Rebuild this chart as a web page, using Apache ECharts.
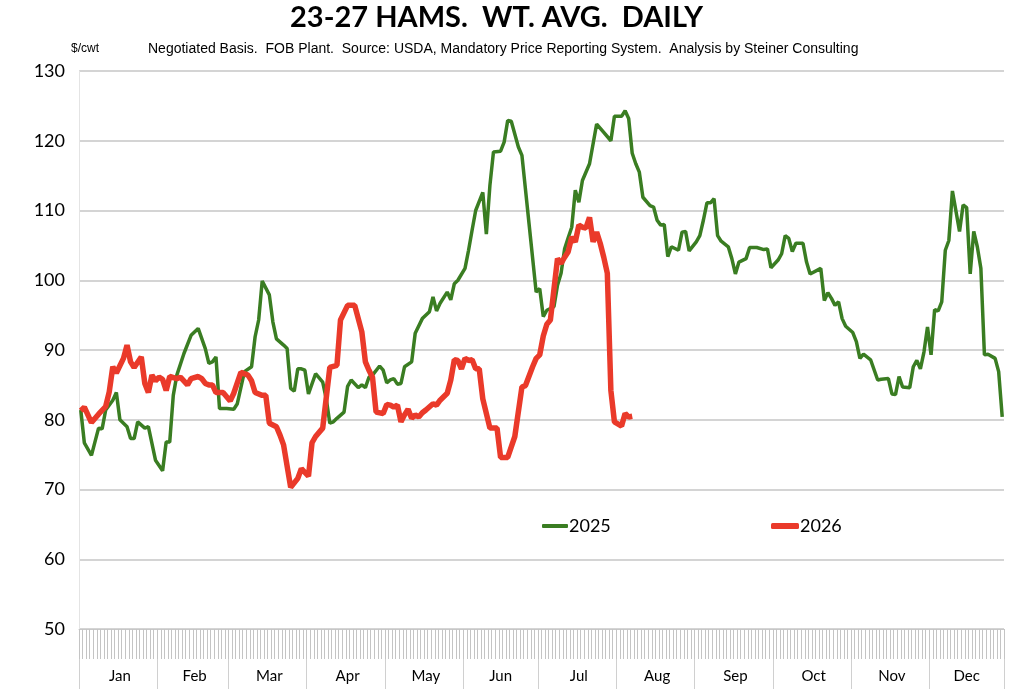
<!DOCTYPE html>
<html>
<head>
<meta charset="utf-8">
<script src="https://cdn.jsdelivr.net/npm/echarts@6/dist/echarts.min.js"></script>
<style>
  html, body { margin: 0; padding: 0; background: #fff; }
  #main { width: 1024px; height: 699px; }
</style>
</head>
<body>
<div id="main"></div>
<script>
// trading days per month on the category axis
var months = ['Jan','Feb','Mar','Apr','May','Jun','Jul','Aug','Sep','Oct','Nov','Dec'];
var monthDays = [22,20,22,22,22,21,22,22,22,22,22,21];

// 2025 (green) - day index within the year, value $/cwt
var days2025 = [0,1,3,5,6,7,9,10,11,13,14,15,16,18,19,21,23,24,25,26,27,29,31,33,35,36,37,38,39,41,
  43,44,46,48,49,50,51,53,54,55,57,58,59,60,61,62,63,64,66,68,69,70,71,72,74,75,76,78,79,80,
  81,82,84,85,86,87,88,89,90,91,93,94,96,98,99,100,101,103,104,105,106,108,109,110,111,113,114,115,116,118,
  119,120,121,123,124,126,128,129,130,131,133,134,135,136,137,138,139,140,141,143,145,147,149,150,152,153,154,155,156,157,
  158,160,161,162,163,164,165,166,168,169,170,171,173,174,175,176,177,178,179,180,182,183,184,185,187,188,190,192,193,194,
  196,197,198,199,200,201,203,204,205,208,209,210,211,212,213,214,215,217,218,219,220,222,224,225,227,228,229,230,231,233,
  234,235,236,237,238,239,240,241,242,243,244,245,247,248,249,250,251,252,253,254,255,257,258,259];
var values2025 = [81.4,76.7,74.9,78.8,78.7,81.4,82.8,83.9,80.0,79.0,77.3,77.3,79.7,78.8,79.0,74.2,72.7,76.8,76.8,83.5,86.4,89.5,92.1,93.1,90.2,88.1,88.3,89.0,81.6,81.6,
  81.5,82.3,86.9,87.6,91.9,94.3,99.9,97.9,94.0,91.6,90.7,90.2,84.5,84.1,87.3,87.3,87.1,83.7,86.6,85.4,83.0,79.5,79.7,80.2,81.1,84.8,85.7,84.6,85.0,84.6,
  86.1,86.4,87.7,87.1,85.3,85.7,85.9,85.1,85.2,87.6,88.3,92.4,94.5,95.5,97.6,95.6,96.7,98.3,97.2,99.5,100.0,101.7,104.3,107.2,110.0,112.6,106.6,113.6,118.4,118.5,
  119.8,122.9,122.8,119.1,117.9,108.1,98.3,98.8,94.8,95.7,96.2,99.3,101.0,104.5,106.1,107.6,112.9,111.2,114.3,116.7,122.4,121.2,120.0,123.5,123.5,124.3,123.2,118.2,116.7,115.5,
  111.9,110.7,110.5,108.6,107.9,108.0,103.4,104.8,104.3,106.9,107.0,104.2,105.5,106.4,108.6,111.1,111.1,111.7,106.4,105.6,104.8,103.1,100.9,102.6,103.1,104.7,104.7,104.4,104.5,101.8,
  102.9,103.8,106.4,106.0,104.1,105.3,105.3,102.6,100.9,101.7,97.1,98.2,97.4,96.4,96.9,94.5,93.4,92.5,91.2,88.8,89.4,88.6,85.7,85.8,85.9,83.7,83.6,86.2,84.7,84.6,
  87.6,88.5,87.3,89.7,93.3,89.3,95.8,95.6,96.9,104.3,105.7,112.8,107.0,110.8,110.4,100.9,107.0,104.8,101.7,89.3,89.4,88.8,86.9,80.4];

// 2026 (red)
var days2026 = [0,1,3,5,7,8,9,10,12,13,14,15,17,18,19,20,21,22,23,24,25,27,28,30,31,33,34,35,36,37,
  38,40,41,42,43,45,47,48,49,51,52,53,55,56,57,59,61,62,64,65,66,68,70,72,73,75,77,79,80,81,
  82,83,85,86,87,88,89,90,91,92,93,94,95,96,97,99,100,101,103,104,105,106,107,108,109,110,111,112,113,115,
  117,118,120,122,124,125,127,128,129,130,131,132,134,135,136,137,138,139,140,141,142,143,144,145,146,147,148,149,150,152,
  153,154,155];
var values2026 = [81.3,81.8,79.6,80.8,81.9,84.0,87.6,86.7,88.8,90.7,88.3,87.5,89.0,85.2,83.9,86.4,85.6,86.1,85.8,84.2,86.2,85.9,86.1,85.0,85.9,86.2,85.9,85.2,85.0,85.0,
  83.9,83.9,83.3,82.7,83.8,86.8,86.4,85.6,83.9,83.5,83.5,79.5,79.0,77.8,76.4,70.3,71.6,73.0,71.9,76.7,77.6,78.8,87.5,87.8,94.3,96.4,96.4,92.6,88.3,87.1,
  86.1,81.1,80.9,82.2,82.1,81.8,82.1,79.7,80.7,81.5,80.2,80.7,80.4,81.0,81.4,82.3,82.1,82.8,83.8,85.7,88.6,88.5,87.3,88.8,88.5,88.6,87.3,87.3,83.0,78.8,
  78.8,74.6,74.6,77.6,84.7,84.9,87.6,88.8,89.3,92.0,93.7,94.3,103.1,102.4,103.3,104.1,106.2,105.5,107.9,107.6,107.5,109.0,105.5,106.9,105.3,103.3,101.0,84.2,79.7,79.1,
  80.9,80.4,80.5];

var yTicks = [50, 60, 70, 80, 90, 100, 110, 120, 130];

// build day categories and month boundaries
var categories = [];
var monthStart = {};
var monthMid = {};
monthDays.forEach(function (n, m) {
  monthStart[categories.length] = true;
  monthMid[categories.length + Math.floor(n / 2)] = months[m];
  for (var d = 1; d <= n; d++) categories.push(months[m] + ' ' + d);
});

function pairs(days, vals) {
  return days.map(function (d, i) { return [d, vals[i]]; });
}

var dom = document.getElementById('main');
var myChart = echarts.init(dom);
var font = 'Lato, "Open Sans", sans-serif';
var narrow = '"Liberation Sans Narrow", "Liberation Sans", sans-serif';
var green = '#3a7d22';
var red = '#ea3a2a';

var option = {
  animation: false,
  title: [
    {
      text: '23-27 HAMS.  WT. AVG.  DAILY',
      left: 285, top: -2,
      textStyle: { fontFamily: font, fontWeight: 'bold', fontSize: 29, color: '#000' }
    },
    {
      text: '$/cwt',
      left: 66, top: 38,
      textStyle: { fontFamily: narrow, fontWeight: 'normal', fontSize: 12, color: '#000' }
    },
    {
      text: 'Negotiated Basis.  FOB Plant.  Source: USDA, Mandatory Price Reporting System.  Analysis by Steiner Consulting',
      left: 143, top: 37,
      textStyle: { fontFamily: narrow, fontWeight: 'normal', fontSize: 14, color: '#000' }
    }
  ],
  legend: [
    {
      data: ['2025'],
      left: 537, top: 512,
      icon: 'roundRect',
      itemWidth: 26, itemHeight: 4,
      textStyle: { fontFamily: font, fontSize: 18, color: '#000', padding: [0, 0, 0, -4] }
    },
    {
      data: ['2026'],
      left: 766, top: 512,
      icon: 'roundRect',
      itemWidth: 28, itemHeight: 6,
      textStyle: { fontFamily: font, fontSize: 18, color: '#000', padding: [0, 0, 0, -4] }
    }
  ],
  grid: { left: 79, right: 20, top: 71, bottom: 70, containLabel: false },
  xAxis: [
    {
      type: 'category',
      data: categories,
      boundaryGap: true,
      axisLine: { show: true, lineStyle: { color: '#c8c8c8', width: 1 } },
      axisTick: { show: true, interval: 0, length: 30, lineStyle: { color: '#c4c4c4', width: 1 } },
      axisLabel: { show: false },
      splitLine: { show: false }
    },
    {
      type: 'category',
      data: categories,
      position: 'bottom',
      offset: 30,
      boundaryGap: true,
      axisLine: { show: false },
      axisTick: {
        show: true, length: 30,
        interval: function (i) { return !!monthStart[i]; },
        lineStyle: { color: '#d0d0d0', width: 1 }
      },
      axisLabel: {
        show: true,
        interval: function (i) { return monthMid[i] !== undefined; },
        formatter: function (v) { return v.split(' ')[0]; },
        fontFamily: font, fontSize: 15, color: '#000', margin: 10
      }
    }
  ],
  yAxis: {
    type: 'value',
    min: 50, max: 130, interval: 10,
    axisLine: { show: true, lineStyle: { color: '#e4e4e4' } },
    axisTick: { show: false },
    axisLabel: {
      fontFamily: font, fontSize: 18, color: '#000', margin: 14,
      formatter: function (v) { return yTicks.indexOf(v) >= 0 ? v : ''; }
    },
    splitLine: { show: true, lineStyle: { color: '#d4d4d4', width: 2 } }
  },
  series: [
    {
      name: '2025',
      type: 'line',
      xAxisIndex: 0,
      data: pairs(days2025, values2025),
      symbol: 'none',
      itemStyle: { color: green },
      lineStyle: { color: green, width: 3.5 }
    },
    {
      name: '2026',
      type: 'line',
      xAxisIndex: 0,
      data: pairs(days2026, values2026),
      symbol: 'none',
      itemStyle: { color: red },
      lineStyle: { color: red, width: 5.5 }
    }
  ]
};

if (option && typeof option === 'object') {
  myChart.setOption(option, true);
}
window.onresize = myChart.resize;
</script>
</body>
</html>
